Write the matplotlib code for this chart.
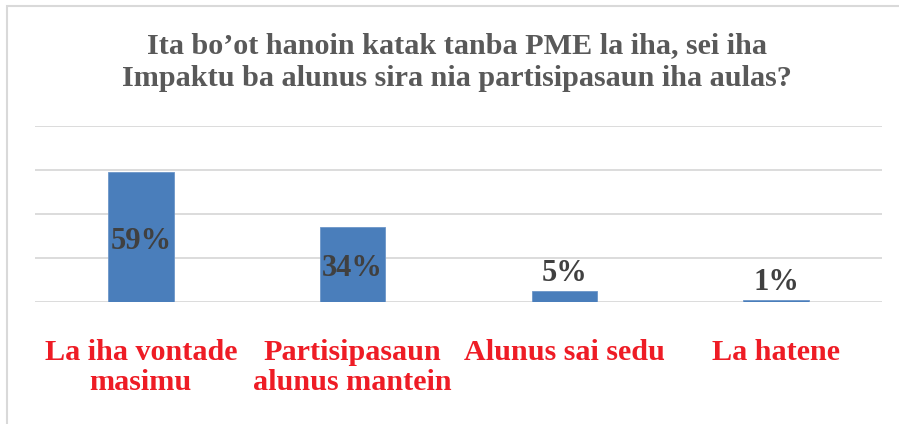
import matplotlib
matplotlib.use("Agg")
import matplotlib.pyplot as plt
from matplotlib.patches import Rectangle

categories = ["La iha vontade\nmasimu", "Partisipasaun\nalunus mantein", "Alunus sai sedu", "La hatene"]
values = [59, 34, 5, 1]
value_labels = ["59%", "34%", "5%", "1%"]
title = "Ita bo\u2019ot hanoin katak tanba PME la iha, sei iha\nImpaktu ba alunus sira nia partisipasaun iha aulas?"

plt.rcParams['font.family'] = ['Liberation Serif', 'DejaVu Serif']

fig = plt.figure(figsize=(8.99, 4.24), dpi=100)
W, H = 899, 424
# chart border (cropped at right/bottom)
fig.patches.append(Rectangle((7 / W, -0.1), 1.2, (H - 6) / H + 0.1, transform=fig.transFigure,
                             fill=False, edgecolor='#d9d9d9', linewidth=1.5))

ax = fig.add_axes([35 / W, (H - 302) / H, (882 - 35) / W, (302 - 126) / H])
x = list(range(len(categories)))
ax.bar(x, values, width=0.31, color='#4a7ebb', edgecolor='#6d96c8', linewidth=0.6, zorder=3)
ax.set_xlim(-0.5, len(categories) - 0.5)
ax.set_ylim(0, 80)
ax.set_yticks([0, 20, 40, 60, 80])
ax.yaxis.grid(True, color='#d9d9d9', linewidth=1.3, zorder=0)
ax.tick_params(axis='y', left=False, labelleft=False)
ax.tick_params(axis='x', bottom=False, pad=23)
for s in ax.spines.values():
    s.set_visible(False)
ax.set_xticks(x)
ax.set_xticklabels(categories, color='#ee1c25', fontsize=21.7, fontweight='bold',
                   linespacing=1.15)

for xi, v, lab in zip(x, values, value_labels):
    if v > 20:
        ax.text(xi, v / 2 - 1.8, lab, ha='center', va='center', fontsize=22,
                fontweight='bold', color='#404040', zorder=4)
    else:
        ax.text(xi, v + 1.5, lab, ha='center', va='bottom', fontsize=22,
                fontweight='bold', color='#404040', zorder=4)

fig.text(457 / W, (H - 62) / H, title, ha='center', va='center', fontsize=21.7,
         fontweight='bold', color='#595959', linespacing=1.3)

fig.savefig('out.png', dpi=100)
